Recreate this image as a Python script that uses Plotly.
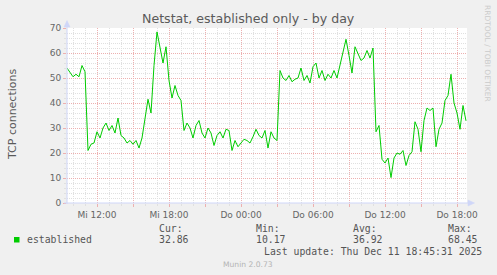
import pandas as pd
import plotly.graph_objects as go

# ---------------- data ----------------
start_time = "2025-12-10 09:30"
step = "15min"
established = [
    54, 52, 50.5, 51.5, 50.5, 55, 52.5, 21, 23.5, 24, 28.5, 26, 30, 32, 29, 31,
    28, 34, 27, 26, 24, 25, 23.5, 25, 22, 26, 33, 41.5, 36, 55, 68.45, 62, 56,
    62.5, 49, 42, 47, 43, 41, 29, 32, 30, 26, 31, 33, 28,
    26, 30, 28, 23, 27, 28.5, 26, 29.5, 29, 21, 25, 22.5, 24, 25.5, 25, 24,
    26.5, 29.5, 27, 26, 29, 22, 28.5, 26, 25, 53, 50, 49, 51, 48.5, 49.5, 50,
    54, 49, 51, 48, 54.5, 56, 50, 53, 49, 51.5, 50, 53, 50, 55,
    60, 65.5, 59, 52, 62.5, 59.5, 57, 58, 61, 58, 62, 28.5, 31, 17.5, 16, 18,
    10.17, 18, 20, 19.5, 21, 15, 19, 20.5, 32.5, 29.5, 20.5, 33, 38, 37, 38,
    22.5, 29.5, 32, 41, 43, 51.5, 40, 36, 29.5, 39, 32.86,
]
times = pd.date_range(start=start_time, periods=len(established), freq=step)

xtick_vals = [
    "2025-12-10 12:00", "2025-12-10 15:00", "2025-12-10 18:00", "2025-12-10 21:00",
    "2025-12-11 00:00", "2025-12-11 03:00", "2025-12-11 06:00", "2025-12-11 09:00",
    "2025-12-11 12:00", "2025-12-11 15:00", "2025-12-11 18:00",
]
xtick_text = ["Mi 12:00", "", "Mi 18:00", "", "Do 00:00", "", "Do 06:00", "",
              "Do 12:00", "", "Do 18:00"]
x_range = ["2025-12-10 09:30", "2025-12-11 18:50"]
y_range = [0, 70]

title_text = "Netstat, established only - by day"
y_title = "TCP connections"
series_name = "established"
stat_labels = ["Cur:", "Min:", "Avg:", "Max:"]
stat_values = ["32.86", "10.17", "36.92", "68.45"]
last_update = "Last update: Thu Dec 11 18:45:31 2025"
footer = "Munin 2.0.73"
watermark = "RRDTOOL / TOBI OETIKER"

# ---------------- layout helpers ----------------
W, H = 497, 275
L, R, T, B = 67, 467, 28, 203


def px(x):
    return (x - L) / (R - L)


def py(y):
    return (B - y) / (B - T)


LINE_COLOR = "#00CC00"
FONT = "DejaVu Sans"
MONO = "DejaVu Sans Mono"
FONT_COLOR = "#666666"
AXIS_COLOR = "#CFD6F8"
MGRID = "#EDB0B0"
GRID = "#E0E0E0"

fig = go.Figure()
fig.add_trace(go.Scatter(
    x=times, y=established, mode="lines",
    line=dict(color=LINE_COLOR, width=1),
    hoverinfo="skip", showlegend=False,
))

fig.update_layout(
    width=W, height=H,
    margin=dict(l=L, r=W - R, t=T, b=H - B, pad=0),
    paper_bgcolor="#F0F0F0",
    plot_bgcolor="#FFFFFF",
    showlegend=False,
    font=dict(family=FONT, size=9, color=FONT_COLOR),
)

fig.update_xaxes(
    type="date", range=x_range,
    tickmode="array", tickvals=xtick_vals, ticktext=xtick_text,
    showgrid=True, gridcolor=MGRID, griddash="1px,1px", gridwidth=1,
    ticks="outside", ticklen=3, tickcolor=MGRID,
    tickfont=dict(family=FONT, size=9, color=FONT_COLOR),
    minor=dict(tickmode="linear", tick0="2025-12-10 00:00", dtick=3600000,
               showgrid=True, gridcolor=GRID, griddash="1px,1px",
               ticks="outside", ticklen=2, tickcolor=GRID),
    showline=False, zeroline=False,
)
fig.update_yaxes(
    range=y_range, tickmode="linear", tick0=0, dtick=10,
    showgrid=True, gridcolor=MGRID, griddash="1px,1px", gridwidth=1,
    ticks="outside", ticklen=3, tickcolor=MGRID,
    tickfont=dict(family=FONT, size=9, color=FONT_COLOR),
    minor=dict(tickmode="linear", tick0=0, dtick=2,
               showgrid=True, gridcolor=GRID, griddash="1px,1px",
               ticks="outside", ticklen=2, tickcolor=GRID),
    showline=False, zeroline=False,
)

shapes = [
    # y axis line + arrow
    dict(type="line", xref="paper", yref="paper",
         x0=px(67), x1=px(67), y0=py(204), y1=py(24),
         line=dict(color=AXIS_COLOR, width=1)),
    dict(type="path", xref="paper", yref="paper",
         path=f"M {px(64)} {py(27)} L {px(70)} {py(27)} L {px(67)} {py(20.5)} Z",
         fillcolor=AXIS_COLOR, line=dict(color=AXIS_COLOR, width=0.5)),
    # x axis line + arrow
    dict(type="line", xref="paper", yref="paper",
         x0=px(64), x1=px(469), y0=py(203), y1=py(203),
         line=dict(color=AXIS_COLOR, width=1)),
    dict(type="path", xref="paper", yref="paper",
         path=f"M {px(468)} {py(200)} L {px(468)} {py(206)} L {px(474.5)} {py(203)} Z",
         fillcolor=AXIS_COLOR, line=dict(color=AXIS_COLOR, width=0.5)),
    # legend colour box
    dict(type="rect", xref="paper", yref="paper",
         x0=px(14), x1=px(19.5), y0=py(242.5), y1=py(237),
         fillcolor=LINE_COLOR, line=dict(width=0)),
]
fig.update_layout(shapes=shapes)

ann = []


def text(s, x, y, size, color, family=FONT, xanchor="left", angle=0):
    ann.append(dict(text=s, xref="paper", yref="paper", x=px(x), y=py(y),
                    xanchor=xanchor, yanchor="middle", showarrow=False,
                    textangle=angle, borderpad=0,
                    font=dict(family=family, size=size, color=color)))


text(title_text, 248.5, 18.5, 12.6, "#5A5A5A", xanchor="center")
text(y_title, 12, 114, 11, "#5A5A5A", xanchor="center", angle=-90)
text(watermark, 487.5, 53.5, 7.5, "#CBCBCB", xanchor="center", angle=90)
text(series_name, 25.5, 239.5, 9.8, "#555555", family=MONO)
stat_x = [158, 255, 352, 447]
for lab, val, sx in zip(stat_labels, stat_values, stat_x):
    text(lab, sx - 0.5, 228.3, 9.8, "#555555", family=MONO)
    text(val, sx - 0.5, 239.5, 9.8, "#555555", family=MONO)
text(last_update, 482.5, 251, 9.8, "#555555", family=MONO, xanchor="right")
text(footer, 248, 264.5, 7.6, "#B4B4B4", xanchor="center")

fig.update_layout(annotations=ann)

fig.write_html("out.html")
